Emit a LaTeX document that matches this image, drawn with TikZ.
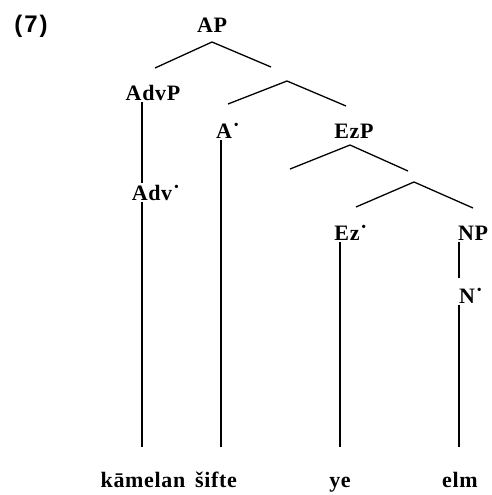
\documentclass[tikz,border=0pt]{standalone}
\usepackage{fontspec}
\setmainfont{Liberation Serif}
\newfontfamily\treefont[LetterSpace=3]{Liberation Serif}
\newfontfamily\exfont[LetterSpace=8]{Liberation Sans}
\usetikzlibrary{positioning}

\begin{document}
\begin{tikzpicture}[
    x=1pt, y=-1pt,
    cat/.style={font=\treefont\fontsize{22}{22}\selectfont\bfseries, anchor=base, inner sep=2pt},
    word/.style={font=\treefont\fontsize{22}{22}\selectfont\bfseries, anchor=base, inner sep=2pt},
    branch/.style={line width=1.3pt},
    stem/.style={line width=1.7pt},
]
\useasboundingbox (0,0) rectangle (492,495);

% Example number
\node[font=\exfont\fontsize{24}{24}\selectfont\bfseries, anchor=base] (exno) at (31,33) {(7)};

% Category labels
\node[cat] (AP)   at (212,33)  {AP};
\node[cat] (AdvP) at (153,100) {AdvP};
\node[cat] (Abar) at (228,138) {A˙};
\node[cat] (EzP)  at (354,138) {EzP};
\node[cat] (Adv)  at (156,200) {Adv˙};
\node[cat] (Ez)   at (351,240) {Ez˙};
\node[cat] (NP)   at (473,240) {NP};
\node[cat] (N)    at (471,303) {N˙};

% Words
\node[word] (kam) at (143,487) {kāmelan};
\node[word] (sif) at (216,487) {šifte};
\node[word] (ye)  at (340,487) {ye};
\node[word] (elm) at (460,487) {elm};

% Branch points
\coordinate (APtop) at (212,42);
\coordinate (APl)   at (155,68);
\coordinate (APr)   at (271,67);
\coordinate (A1top) at (287,81);
\coordinate (A1l)   at (228,104);
\coordinate (A1r)   at (346,106);
\coordinate (EzPtop) at (350,145);
\coordinate (EzPl)   at (290,169);
\coordinate (EzPr)   at (408,171);
\coordinate (E1top) at (414,182);
\coordinate (E1l)   at (356,207);
\coordinate (E1r)   at (473,208);

\draw[branch] (APl) -- (APtop) -- (APr);
\draw[branch] (A1l) -- (A1top) -- (A1r);
\draw[branch] (EzPl) -- (EzPtop) -- (EzPr);
\draw[branch] (E1l) -- (E1top) -- (E1r);

% Stems
\coordinate (fkam) at (142,447);
\coordinate (fsif) at (221,447);
\coordinate (fye)  at (340,447);
\coordinate (felm) at (459,447);

\draw[stem] (AdvP.south -| fkam) -- (Adv.north -| fkam);
\draw[stem] (Adv.south -| fkam) -- (fkam);
\draw[stem] (Abar.south -| fsif) -- (fsif);
\draw[stem] (Ez.south -| fye) -- (fye);
\draw[stem, shorten >=8pt] (NP.south -| felm) -- (N.north -| felm);
\draw[stem] (N.south -| felm) -- (felm);

\end{tikzpicture}
\end{document}
